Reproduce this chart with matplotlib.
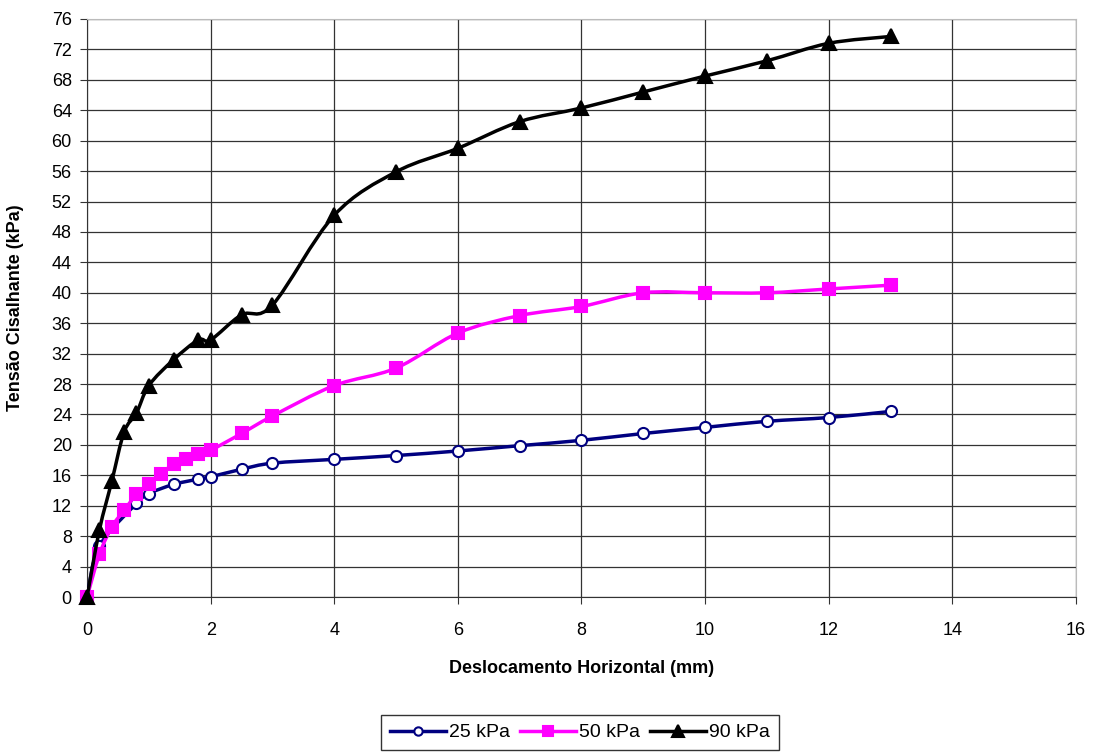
import matplotlib
matplotlib.use("Agg")
import matplotlib.pyplot as plt
from matplotlib.path import Path
from matplotlib.patches import PathPatch
from matplotlib.lines import Line2D

plt.rcParams['font.family'] = ['Liberation Sans', 'DejaVu Sans']

# displacement (mm) and shear stress (kPa) per normal stress
x_25 = [0, 0.2, 0.8, 1.0, 1.4, 1.8, 2.0, 2.5, 3, 4, 5, 6, 7, 8, 9, 10, 11, 12, 13]
y_25 = [0, 6.7, 12.3, 13.6, 14.8, 15.5, 15.8, 16.8, 17.6, 18.1, 18.6, 19.2, 19.9, 20.6, 21.5, 22.3, 23.1, 23.6, 24.4]

x_50 = [0, 0.2, 0.4, 0.6, 0.8, 1.0, 1.2, 1.4, 1.6, 1.8, 2.0, 2.5, 3, 4, 5, 6, 7, 8, 9, 10, 11, 12, 13]
y_50 = [0, 5.6, 9.2, 11.4, 13.5, 14.8, 16.2, 17.5, 18.2, 18.8, 19.3, 21.5, 23.8, 27.8, 30.1, 34.7, 37.0, 38.2, 40.0, 40.0, 40.0, 40.5, 41.0]

x_90 = [0, 0.2, 0.4, 0.6, 0.8, 1.0, 1.4, 1.8, 2.0, 2.5, 3, 4, 5, 6, 7, 8, 9, 10, 11, 12, 13]
y_90 = [0, 8.8, 15.2, 21.7, 24.2, 27.8, 31.2, 33.8, 33.8, 37.1, 38.4, 50.2, 55.9, 59.0, 62.5, 64.3, 66.4, 68.5, 70.5, 72.8, 73.7]

labels = ['25 kPa', '50 kPa', '90 kPa']


def smooth_path(xs, ys):
    # Excel-like smoothed line: cubic Bezier through every point
    pts = list(zip(xs, ys))
    n = len(pts)
    verts = [pts[0]]
    codes = [Path.MOVETO]
    for i in range(n - 1):
        p0 = pts[i - 1] if i > 0 else pts[i]
        p1 = pts[i]
        p2 = pts[i + 1]
        p3 = pts[i + 2] if i + 2 < n else pts[i + 1]
        c1 = (p1[0] + (p2[0] - p0[0]) / 6, p1[1] + (p2[1] - p0[1]) / 6)
        c2 = (p2[0] - (p3[0] - p1[0]) / 6, p2[1] - (p3[1] - p1[1]) / 6)
        verts += [c1, c2, p2]
        codes += [Path.CURVE4] * 3
    return Path(verts, codes)


fig = plt.figure(figsize=(10.99, 7.56), dpi=100)
ax = fig.add_axes([0.0792, 0.2103, 0.8998, 0.7646])

series = [
    (x_25, y_25, '#000080', 'o', 'white', 8, 6),
    (x_50, y_50, '#FF00FF', 's', '#FF00FF', 9, 6.5),
    (x_90, y_90, 'black', '^', 'black', 10.5, 8),
]

handles = []
for k, (xs, ys, col, m, fc, ms, ms_leg) in enumerate(series):
    ax.add_patch(PathPatch(smooth_path(xs, ys), facecolor='none', edgecolor=col,
                           linewidth=2.5, zorder=3 + k, capstyle='round', joinstyle='round'))
    ax.plot(xs, ys, linestyle='none', marker=m, markersize=ms, markerfacecolor=fc,
            markeredgecolor=col, markeredgewidth=1.5, zorder=3 + k, clip_on=False)
    handles.append(Line2D([], [], color=col, linewidth=2.5, marker=m, markersize=ms_leg,
                          markerfacecolor=fc, markeredgecolor=col, markeredgewidth=1.5))

ax.set_xlim(0, 16)
ax.set_ylim(0, 76)
ax.set_xticks(range(0, 17, 2))
ax.set_yticks(range(0, 77, 4))
ax.grid(True, color='#333333', linewidth=0.9)
ax.set_axisbelow(True)
for s in ['top', 'right']:
    ax.spines[s].set_color('#bbbbbb')
for s in ['left', 'bottom']:
    ax.spines[s].set_color('#333333')
ax.tick_params(axis='both', labelsize=13, length=5, color='#333333', direction='out')
ax.tick_params(axis='x', pad=13)
ax.tick_params(axis='y', pad=6)

ax.set_xlabel('Deslocamento Horizontal (mm)', fontsize=13, fontweight='bold', labelpad=15)
ax.set_ylabel('Tensão Cisalhante (kPa)', fontsize=13, fontweight='bold', labelpad=20)

leg = fig.legend(handles, labels, loc='center', bbox_to_anchor=(0.5275, 0.031), ncol=3,
                 fontsize=14, frameon=True, fancybox=False, edgecolor='black',
                 handlelength=2.9, handletextpad=0.15, columnspacing=0.5,
                 borderpad=0.45, borderaxespad=0)
leg.get_frame().set_linewidth(1.0)

fig.savefig('out.png', dpi=100)
